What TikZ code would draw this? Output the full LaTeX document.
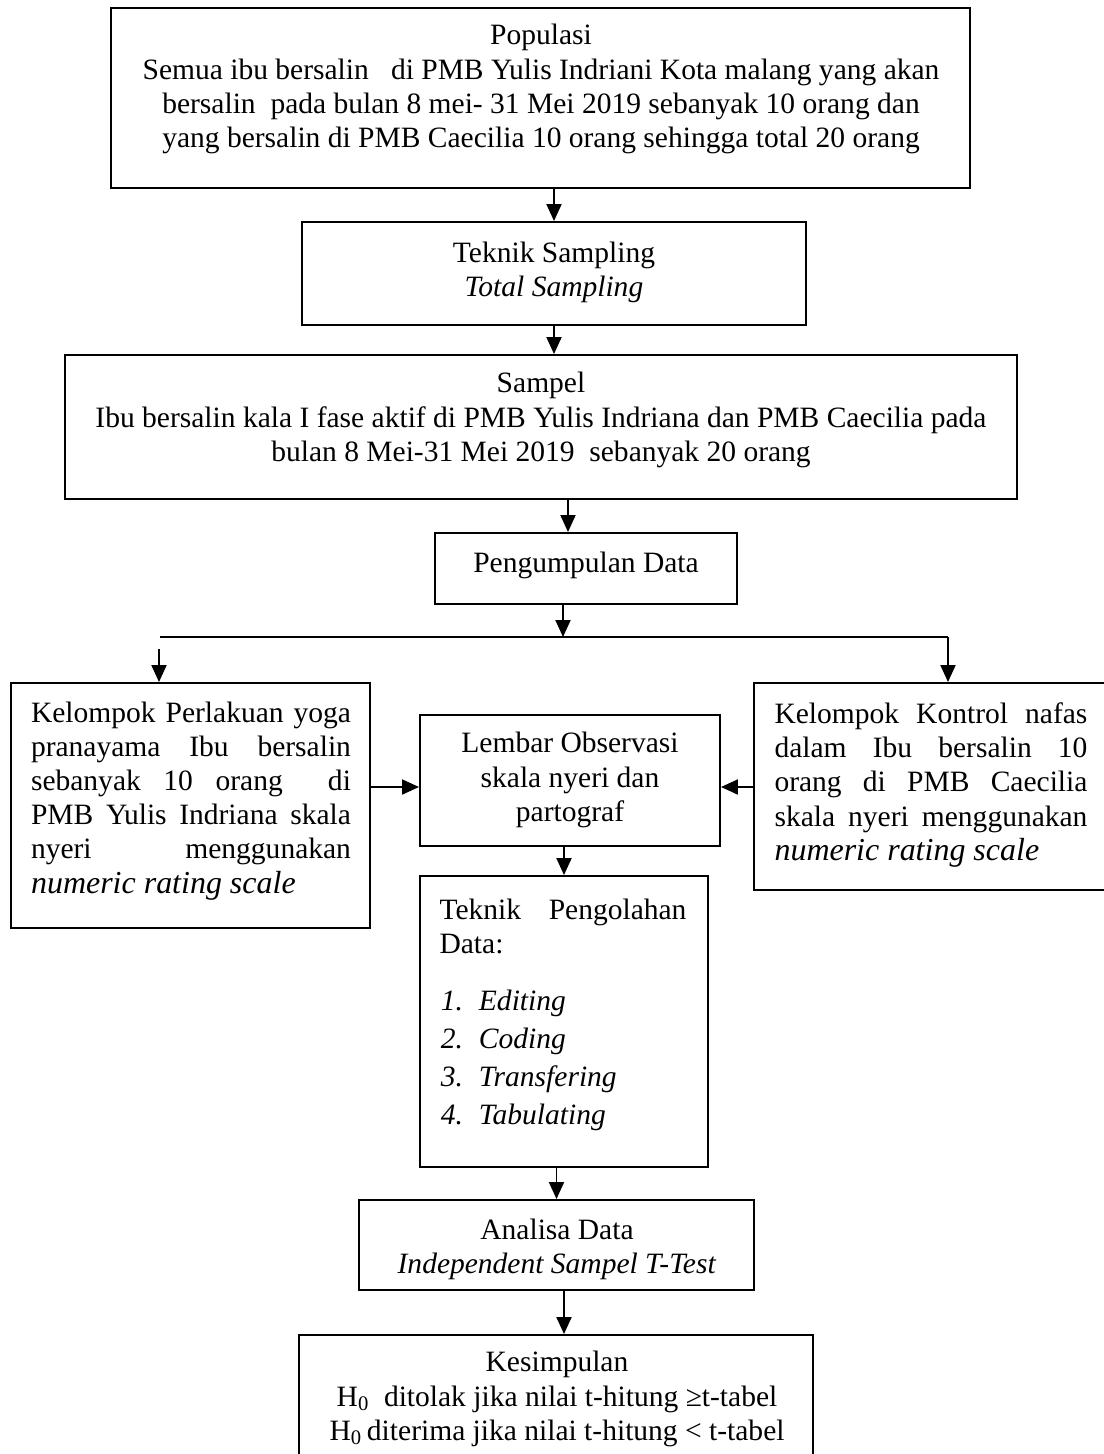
\documentclass[tikz,border=0pt]{standalone}
\usepackage{fontspec}
\setmainfont{Liberation Serif}
\usetikzlibrary{arrows.meta,fit,positioning}

\begin{document}
\begin{tikzpicture}[x=0.02cm,y=-0.02cm,line width=1.1pt,
    >={Triangle[length=0.34cm,width=0.3cm]},
    frame/.style={draw,inner sep=0pt},
    txt/.style={inner sep=0pt,align=center,font=\fontsize{16.8}{19.4}\selectfont},
    jtxt/.style={txt,align=justify}]
    \useasboundingbox (0,0) rectangle (1104,1454);
    \clip (0,0) rectangle (1104,1454);

    % frames
    \node[frame,fit={(111,8) (970,188)}] (pop) {};
    \node[frame,fit={(302,222) (806,325)}] (ts) {};
    \node[frame,fit={(65,355) (1017,499)}] (sam) {};
    \node[frame,fit={(435,533) (737,604)}] (peng) {};
    \node[frame,fit={(11,683) (370,928)}] (kpl) {};
    \node[frame,fit={(420,715) (720,846)}] (lem) {};
    \node[frame,fit={(754,683) (1115,890)}] (kon) {};
    \node[frame,fit={(420,876) (708,1167)}] (tp) {};
    \node[frame,fit={(359,1200) (754,1290)}] (ana) {};
    \node[frame,fit={(299,1335) (813,1475)}] (kes) {};

    % texts
    \node[txt] (poptxt) at (541,89) {Populasi\\Semua ibu bersalin \ \ di PMB Yulis Indriani Kota malang yang akan\\bersalin \ pada bulan 8 mei- 31 Mei 2019 sebanyak 10 orang dan\\yang bersalin di PMB Caecilia 10 orang sehingga total 20 orang};
    \node[txt] (tstxt) at (554,272) {Teknik Sampling\\\textit{Total Sampling}};
    \node[txt] (samtxt) at (541,420) {Sampel\\Ibu bersalin kala I fase aktif di PMB Yulis Indriana dan PMB Caecilia pada\\bulan 8 Mei-31 Mei 2019 \ sebanyak 20 orang};
    \node[txt] (pengtxt) at (586,565) {Pengumpulan Data};
    \node[jtxt,text width=6.4cm] (kpltxt) at (191,801) {Kelompok Perlakuan yoga\linebreak pranayama Ibu bersalin\linebreak sebanyak 10 orang \ di\linebreak PMB Yulis Indriana skala\linebreak nyeri menggunakan\linebreak {\fontsize{18.2}{19.4}\selectfont\itshape numeric rating scale}};
    \node[txt] (lemtxt) at (570,780) {Lembar Observasi\\skala nyeri dan\\partograf};
    \node[jtxt,text width=6.26cm] (kontxt) at (931,785) {Kelompok Kontrol nafas\linebreak dalam Ibu bersalin 10\linebreak orang di PMB Caecilia\linebreak skala nyeri menggunakan\linebreak {\fontsize{18.2}{19.4}\selectfont\itshape numeric rating scale}};
    \node[jtxt,text width=4.94cm] (tptxt) at (563,926) {Teknik Pengolahan\linebreak Data:};
    \node[txt,align=left,anchor=west,font=\fontsize{16.8}{19.4}\selectfont\itshape] (tplist) at (440,1060)
        {\makebox[0.76cm][l]{1.}Editing\\[2.2pt]\makebox[0.76cm][l]{2.}Coding\\[2.2pt]\makebox[0.76cm][l]{3.}Transfering\\[2.2pt]\makebox[0.76cm][l]{4.}Tabulating};
    \node[txt] (anatxt) at (557,1249) {Analisa Data\\\textit{Independent Sampel T-Test}};
    \node[txt] (kestxt) at (557,1399) {Kesimpulan\\H\textsubscript{0} \ ditolak jika nilai t-hitung ≥t-tabel\\H\textsubscript{0}\,diterima jika nilai t-hitung < t-tabel};

    % split line
    \coordinate (lineL) at (160,637);
    \coordinate (lineR) at (948,637);
    \coordinate (split) at (563,637);
    \coordinate (startL) at (159,649);
    \draw (lineL) -- (lineR);

    % arrows
    \draw[->] (pop.south -| ts.north) -- (ts.north);
    \draw[->] (ts.south) -- (ts.south |- sam.north);
    \draw[->] ([xshift=0.54cm]sam.south) -- ([xshift=0.54cm]sam.south |- peng.north);
    \draw[->] (peng.south -| split) -- (split);
    \draw[->] (lineR) -- (lineR |- kon.north);
    \draw[->] (startL) -- (startL |- kpl.north);
    \draw[->] ([yshift=-0.13cm]lem.west -| kpl.east) -- ([yshift=-0.13cm]lem.west);
    \draw[->] ([yshift=-0.13cm]lem.east -| kon.west) -- ([yshift=-0.13cm]lem.east);
    \draw[->] (lem.south -| tp.north) -- (tp.north);
    \draw[->] (tp.south -| ana.north) -- (ana.north);
    \draw[->] ([xshift=0.15cm]ana.south) -- ([xshift=0.15cm]ana.south |- kes.north);
\end{tikzpicture}
\end{document}
